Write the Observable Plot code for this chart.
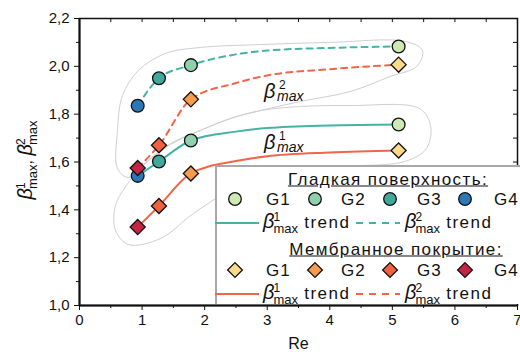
<!DOCTYPE html>
<html><head><meta charset="utf-8">
<script src="https://cdn.jsdelivr.net/npm/d3@7"></script>
<script src="https://cdn.jsdelivr.net/npm/@observablehq/plot@0.6"></script>
<style>
body{margin:0;background:#fff;font-family:"Liberation Sans",Arial,sans-serif;}
#wrap{position:relative;width:520px;height:356px;overflow:hidden;background:#fff;}
#wrap svg{position:absolute;left:0;top:0;}
.b{font-style:italic;font-size:20px;letter-spacing:0;}
.ss{display:inline-block;vertical-align:middle;line-height:0.95;text-align:left;margin-left:-1px;letter-spacing:0;}
.ss span{display:block;}
.ss .sp{font-size:12px;}
.ss .sb{font-size:13px;}
#ylab{position:absolute;left:27px;top:160px;transform:translate(-50%,-50%) rotate(-90deg);white-space:nowrap;font-size:16px;color:#111;}
#legend{position:absolute;left:215px;top:165px;width:320px;height:139px;background:#fff;border-top:2px solid #a8a8a8;border-left:2px solid #a8a8a8;box-sizing:border-box;color:#111;}
#legend .it{position:absolute;transform:translateY(-50%);white-space:nowrap;font-size:17px;line-height:1;letter-spacing:1px;}
#legend .tr{letter-spacing:1.5px;}
#legend .ttl{position:absolute;transform:translate(-50%,-50%);white-space:nowrap;font-size:17px;letter-spacing:1.4px;text-decoration:underline;line-height:1;}
#legend svg{position:absolute;}
</style></head><body><div id="wrap"></div>
<script>
// ---- data ----
const groups = ["G1", "G2", "G3", "G4"];
const reValues = [5.1, 1.78, 1.27, 0.93];
const smoothBeta1 = [1.757, 1.69, 1.602, 1.542];
const smoothBeta2 = [2.083, 2.005, 1.95, 1.835];
const membraneBeta1 = [1.648, 1.552, 1.416, 1.328];
const membraneBeta2 = [2.007, 1.862, 1.67, 1.575];

const trendRe = [0.93, 1.27, 1.78, 2.5, 3.0, 4.0, 5.1];
const smoothTrend1 = [1.542, 1.602, 1.69, 1.727, 1.742, 1.753, 1.757];
const smoothTrend2 = [1.835, 1.95, 2.005, 2.05, 2.066, 2.077, 2.083];
const membraneTrend1 = [1.328, 1.416, 1.552, 1.604, 1.624, 1.64, 1.648];
const membraneTrend2 = [1.575, 1.67, 1.862, 1.93, 1.962, 1.988, 2.007];

// gray outlines around the two groups (data coordinates)
const hull2Re   = [0.943, 1.374, 1.934, 2.893, 4.011, 5.21, 5.482, 5.386, 4.97, 4.331, 3.532, 2.893, 2.413, 1.934, 1.454, 1.055, 0.783, 0.607, 0.607, 0.687];
const hull2Beta = [1.983, 2.054, 2.079, 2.091, 2.100, 2.104, 2.066, 1.999, 1.958, 1.895, 1.853, 1.815, 1.782, 1.732, 1.677, 1.598, 1.535, 1.573, 1.732, 1.878];
const hull1Re   = [5.43, 4.331, 3.532, 2.893, 2.413, 1.934, 1.454, 1.055, 0.783, 0.575, 0.575, 0.783, 1.295, 1.822, 2.413, 3.212, 4.171, 5.21, 5.546, 5.61];
const hull1Beta = [1.824, 1.836, 1.832, 1.815, 1.782, 1.732, 1.673, 1.594, 1.514, 1.418, 1.314, 1.255, 1.280, 1.385, 1.481, 1.556, 1.581, 1.603, 1.657, 1.753];

const labelRe = [2.95, 2.95];
const labelBeta = [1.893, 1.68];
const labelSup = ["2", "1"];

const xMajor = [0, 1, 2, 3, 4, 5, 6, 7];
const xMinor = [0.5, 1.5, 2.5, 3.5, 4.5, 5.5, 6.5];
const yMajor = [1.0, 1.2, 1.4, 1.6, 1.8, 2.0, 2.2];
const yMinor = [1.1, 1.3, 1.5, 1.7, 1.9, 2.1];
const xAll = [0.5, 1, 1.5, 2, 2.5, 3, 3.5, 4, 4.5, 5, 5.5, 6, 6.5];
const yAll = [1.1, 1.2, 1.3, 1.4, 1.5, 1.6, 1.7, 1.8, 1.9, 2.0, 2.1];

// ---- styles ----
const smoothColors = ["#cfe9b6", "#8fd1ac", "#3fa99c", "#2a78b8"];
const membraneColors = ["#fdd98a", "#f99b4c", "#f0623f", "#c72343"];
const teal = "#45b3a4";
const red = "#f2654a";
const hullGray = "#cfcfcf";

const pts = (ys) => groups.map((g, i) => ({g, re: reValues[i], b: ys[i], i}));
const trend = (ys) => trendRe.map((r, i) => ({re: r, b: ys[i]}));
const hull = (xs, ys) => xs.map((r, i) => ({re: r, b: ys[i]}));
const labels = labelRe.map((r, i) => ({re: r, b: labelBeta[i], s: labelSup[i]}));
const fmt = d => d.toFixed(1).replace(".", ",");

const font = "Liberation Sans, Arial, sans-serif";
const frameH = 356 - 18 - 51;
const frameW = 520 - 79 - 3;

const chart = Plot.plot({
  width: 520, height: 356,
  marginLeft: 79, marginRight: 3, marginTop: 18, marginBottom: 51,
  style: {fontFamily: font, fontSize: "15px", color: "#111", background: "transparent"},
  x: {domain: [0, 7]},
  y: {domain: [1.0, 2.2]},
  marks: [
    Plot.line(hull(hull2Re, hull2Beta), {x: "re", y: "b", curve: "catmull-rom-closed", stroke: hullGray, strokeWidth: 1}),
    Plot.line(hull(hull1Re, hull1Beta), {x: "re", y: "b", curve: "catmull-rom-closed", stroke: hullGray, strokeWidth: 1}),
    Plot.line(trend(smoothTrend2), {x: "re", y: "b", curve: "monotone-x", stroke: teal, strokeWidth: 2, strokeDasharray: "6,5"}),
    Plot.line(trend(membraneTrend2), {x: "re", y: "b", curve: "monotone-x", stroke: red, strokeWidth: 2, strokeDasharray: "6,5"}),
    Plot.line(trend(smoothTrend1), {x: "re", y: "b", curve: "monotone-x", stroke: teal, strokeWidth: 2}),
    Plot.line(trend(membraneTrend1), {x: "re", y: "b", curve: "monotone-x", stroke: red, strokeWidth: 2}),
    Plot.dot(pts(smoothBeta2), {x: "re", y: "b", r: 6.4, fill: d => smoothColors[d.i], stroke: "#111", strokeWidth: 1.3}),
    Plot.dot(pts(smoothBeta1), {x: "re", y: "b", r: 6.4, fill: d => smoothColors[d.i], stroke: "#111", strokeWidth: 1.3}),
    Plot.dot(pts(membraneBeta2), {x: "re", y: "b", r: 6.8, symbol: "diamond2", fill: d => membraneColors[d.i], stroke: "#111", strokeWidth: 1.3}),
    Plot.dot(pts(membraneBeta1), {x: "re", y: "b", r: 6.8, symbol: "diamond2", fill: d => membraneColors[d.i], stroke: "#111", strokeWidth: 1.3}),
    Plot.text(labels, {x: "re", y: "b", text: () => "β", textAnchor: "start", fontSize: 20, fontStyle: "italic", fill: "#111"}),
    Plot.text(labels, {x: "re", y: "b", text: "s", textAnchor: "start", dx: 15, dy: -7, fontSize: 12, fill: "#111"}),
    Plot.text(labels, {x: "re", y: "b", text: () => "max", textAnchor: "start", dx: 13, dy: 5, fontSize: 14, fontStyle: "italic", fill: "#111"}),
    Plot.axisX({ticks: xMajor, tickSize: 5, tickPadding: 4, tickFormat: d => String(d), label: null, fontSize: 15}),
    Plot.axisX({ticks: xMinor, tickSize: 3, tickFormat: () => "", label: null}),
    Plot.tickX(xAll, {x: d => d, stroke: "#111", strokeWidth: 1, insetBottom: frameH - 4}),
    Plot.axisY({ticks: yMajor, tickSize: 5, tickPadding: 5, tickFormat: fmt, label: null, fontSize: 15}),
    Plot.axisY({ticks: yMinor, tickSize: 3, tickFormat: () => "", label: null}),
    Plot.tickY(yAll, {y: d => d, stroke: "#111", strokeWidth: 1, insetLeft: frameW - 4}),
    Plot.frame({stroke: "#111", strokeWidth: 1.5}),
    Plot.ruleX([0], {stroke: "#111", strokeWidth: 2}),
    Plot.ruleY([1.0], {stroke: "#111", strokeWidth: 2}),
    Plot.text(["Re"], {frameAnchor: "bottom", dy: 43, fontSize: 16, fill: "#111"})
  ]
});

const wrap = document.getElementById("wrap");
wrap.appendChild(chart);

const betaHTML = (sup) =>
  `<span class="b">β</span><span class="ss"><span class="sp">${sup}</span><span class="sb">max</span></span>`;

const ylab = document.createElement("div");
ylab.id = "ylab";
ylab.innerHTML = betaHTML("1") + ", " + betaHTML("2");
wrap.appendChild(ylab);

// ---- legend ----
const lg = document.createElement("div");
lg.id = "legend";
const markerXs = [18, 98, 173, 248];
const labelXs = [49, 124, 200, 277];
let h = "";
h += `<span class="ttl" style="left:171px;top:12px">Гладкая поверхность:</span>`;
groups.forEach((g, i) => {
  h += `<svg width="16" height="16" style="left:${markerXs[i] - 8}px;top:${32 - 8}px"><circle cx="8" cy="8" r="6.3" fill="${smoothColors[i]}" stroke="#111" stroke-width="1.3"/></svg>`;
  h += `<span class="it" style="left:${labelXs[i]}px;top:32px">${g}</span>`;
});
const lineRow = (y, color) => {
  let s = "";
  s += `<svg width="44" height="6" style="left:-2px;top:${y - 3}px"><line x1="0" y1="3" x2="44" y2="3" stroke="${color}" stroke-width="2"/></svg>`;
  s += `<span class="it tr" style="left:46px;top:${y}px">${betaHTML("1")} trend</span>`;
  s += `<svg width="44" height="6" style="left:139px;top:${y - 3}px"><line x1="0" y1="3" x2="44" y2="3" stroke="${color}" stroke-width="2" stroke-dasharray="7,6"/></svg>`;
  s += `<span class="it tr" style="left:188px;top:${y}px">${betaHTML("2")} trend</span>`;
  return s;
};
h += lineRow(56, teal);
h += `<span class="ttl" style="left:179px;top:82px">Мембранное покрытие:</span>`;
groups.forEach((g, i) => {
  h += `<svg width="18" height="18" style="left:${markerXs[i] - 9}px;top:${103 - 9}px"><path d="M9,1.6L16.4,9L9,16.4L1.6,9Z" fill="${membraneColors[i]}" stroke="#111" stroke-width="1.3"/></svg>`;
  h += `<span class="it" style="left:${labelXs[i]}px;top:103px">${g}</span>`;
});
h += lineRow(127, red);
lg.innerHTML = h;
wrap.appendChild(lg);
</script>
</body></html>
